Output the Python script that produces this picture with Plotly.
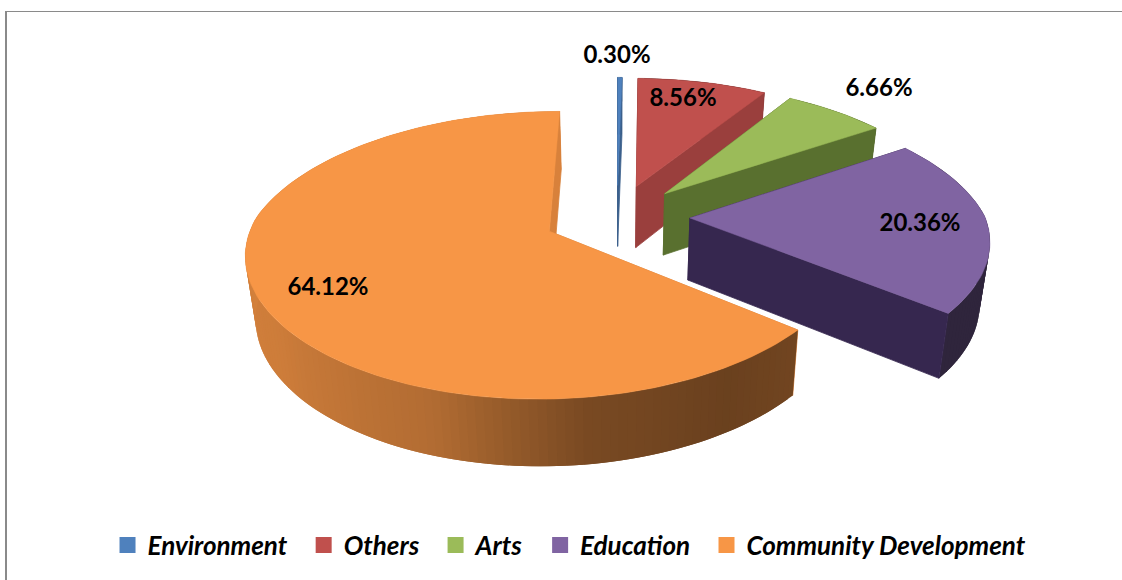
import numpy as np
import plotly.graph_objects as go

# Share of each category, in percent, clockwise from twelve o'clock
categories = ["Environment", "Others", "Arts", "Education", "Community Development"]
shares = [0.30, 8.56, 6.66, 20.36, 64.12]

# Colours
top_colors = ["#4f81bd", "#c0504d", "#9bbb59", "#8064a2", "#f79646"]
face_colors = ["#3b608c", "#9a3f3d", "#59702f", "#36274f", "#d8813b"]
label_xy = [(617, 57), (683, 100), (879, 90), (920, 225), (328, 289)]

# Projection of the tilted, exploded pie onto the page (pixels)
CX, CY = 617.0, 216.5
RX, RY = 295.0, 135.0
KX_FRONT, KX_BACK, KY = 0.14, 0.18, 0.164
EXPLODE = [0.24, 0.24, 0.24, 0.247, 0.25]
DEPTH = 62.0
DEPTH_K = 0.07
BASE_SHRINK = 0.972


def project(wx, wy, lower=False):
    kx = np.where(np.asarray(wy) < 0, KX_BACK, KX_FRONT)
    x = CX + RX * wx / (1 - kx * wy)
    y = CY + RY * wy / (1 - KY * wy)
    if lower:
        x = CX + (x - CX) * BASE_SHRINK
        y = y + DEPTH / (1 - DEPTH_K * wy)
    return x, y


def rgb(color, factor=1.0):
    c = [int(color[i:i + 2], 16) for i in (1, 3, 5)]
    return "rgb({},{},{})".format(*[int(round(v * factor)) for v in c])


def side_shade(deg):
    return float(np.interp(deg, [0, 128.9, 129.2, 147, 172, 186, 198, 235, 275],
                           [0.37, 0.37, 0.46, 0.43, 0.49, 0.61, 0.72, 0.83, 0.86]))


def polygon(fig, xs, ys, color, line=0.8):
    fig.add_trace(go.Scatter(
        x=list(xs), y=list(ys), mode="lines", fill="toself", fillcolor=color,
        line=dict(color=color, width=line), hoverinfo="skip", showlegend=False,
    ))


fig = go.Figure()
edges = np.concatenate([[0.0], np.cumsum(shares)]) * 3.6

for i, name in enumerate(categories):
    start, end = edges[i], edges[i + 1]
    mid = np.radians((start + end) / 2)
    ox, oy = EXPLODE[i] * np.sin(mid), -EXPLODE[i] * np.cos(mid)

    degs = np.linspace(start, end, max(3, int((end - start) / 1.5) + 2))
    rad = np.radians(degs)
    wx, wy = ox + np.sin(rad), oy - np.cos(rad)

    ax, ay = project(ox, oy)
    bx, by = project(ox, oy, lower=True)
    tx, ty = project(wx, wy)
    lx, ly = project(wx, wy, lower=True)
    face = face_colors[i]

    # Cut face on the leading edge of the slice
    polygon(fig, [ax, tx[0], lx[0], bx, ax], [ay, ty[0], ly[0], by, ay], face)

    # Rim strips, each running under the next so the shading blends without seams
    for k in range(len(degs) - 1):
        j = min(k + 2, len(degs) - 1)
        strip = rgb(top_colors[i], side_shade((degs[k] + degs[k + 1]) / 2))
        polygon(fig, [tx[k], tx[j], lx[j], lx[k], tx[k]],
                [ty[k], ty[j], ly[j], ly[k], ty[k]], strip, line=0)

    # Cut face on the trailing edge, then the top face
    polygon(fig, [ax, tx[-1], lx[-1], bx, ax], [ay, ty[-1], ly[-1], by, ay], face)
    polygon(fig, np.r_[ax, tx, ax], np.r_[ay, ty, ay], rgb(top_colors[i]), line=0.5)

# Percentage labels
fig.add_trace(go.Scatter(
    x=[p[0] for p in label_xy], y=[p[1] for p in label_xy],
    mode="text", text=[f"{v:.2f}%" for v in shares], textposition="middle center",
    textfont=dict(family="Lato", size=24, color="#000000", weight="bold"),
    hoverinfo="skip", showlegend=False,
))

# Legend entries; the trailing spaces widen the gap between entries
for name, color in zip(categories, top_colors):
    fig.add_trace(go.Scatter(
        x=[None], y=[None], mode="markers", name=name + "\u00a0\u00a0",
        marker=dict(symbol="square", size=16, color=color),
    ))

frame = "#8a8a8a"
fig.update_layout(
    width=1122, height=580, margin=dict(l=0, r=0, t=0, b=0),
    paper_bgcolor="#ffffff", plot_bgcolor="#ffffff",
    xaxis=dict(range=[0, 1122], visible=False, fixedrange=True),
    yaxis=dict(range=[580, 0], visible=False, fixedrange=True),
    showlegend=True,
    legend=dict(
        orientation="h", x=0.5125, xanchor="center", y=0.06, yanchor="middle",
        font=dict(family="Lato", size=26, color="#000000", weight="bold", style="italic"),
        bgcolor="rgba(0,0,0,0)",
    ),
    shapes=[
        dict(type="line", xref="x", yref="y", x0=5, x1=1122, y0=11.5, y1=11.5,
             line=dict(color=frame, width=1)),
        dict(type="line", xref="x", yref="y", x0=6, x1=6, y0=11, y1=580,
             line=dict(color=frame, width=2)),
    ],
)

fig.write_html("out.html")
